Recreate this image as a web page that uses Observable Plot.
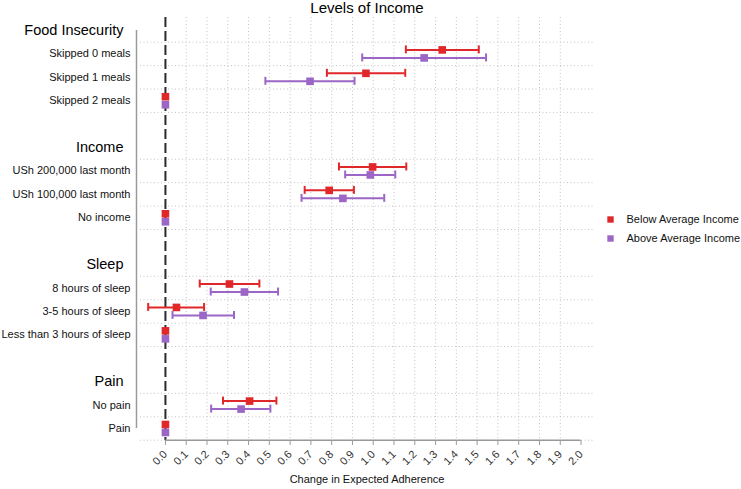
<!DOCTYPE html>
<html><head><meta charset="utf-8">
<script src="https://cdn.jsdelivr.net/npm/d3@7"></script>
<script src="https://cdn.jsdelivr.net/npm/@observablehq/plot@0.6"></script>
<style>body{margin:0;background:#fff;} svg{display:block}</style>
</head><body><div id="chart"></div>
<script>
const title = "Levels of Income";
const xTitle = "Change in Expected Adherence";
const groupNames = ["Food Insecurity", "Income", "Sleep", "Pain"];
const groupRows = [
  ["Skipped 0 meals", "Skipped 1 meals", "Skipped 2 meals"],
  ["USh 200,000 last month", "USh 100,000 last month", "No income"],
  ["8 hours of sleep", "3-5 hours of sleep", "Less than 3 hours of sleep"],
  ["No pain", "Pain"]
];
const seriesNames = ["Below Average Income", "Above Average Income"];
const seriesColors = ["#e0282b", "#9b66c6"];
// values in row order (same order as groupRows flattened); null = reference level (no interval)
const belowEst = [1.332, 0.965, 0, 0.997, 0.788, 0, 0.308, 0.053, 0, 0.405, 0];
const belowLo  = [1.157, 0.777, null, 0.835, 0.670, null, 0.165, -0.083, null, 0.277, null];
const belowHi  = [1.508, 1.154, null, 1.159, 0.907, null, 0.452, 0.186, null, 0.534, null];
const aboveEst = [1.245, 0.696, 0, 0.986, 0.854, 0, 0.380, 0.181, 0, 0.364, 0];
const aboveLo  = [0.947, 0.481, null, 0.865, 0.655, null, 0.218, 0.034, null, 0.220, null];
const aboveHi  = [1.543, 0.910, null, 1.106, 1.053, null, 0.542, 0.330, null, 0.505, null];
const xTicks = [0.0, 0.1, 0.2, 0.3, 0.4, 0.5, 0.6, 0.7, 0.8, 0.9, 1.0, 1.1, 1.2, 1.3, 1.4, 1.5, 1.6, 1.7, 1.8, 1.9, 2.0];
const xGrid = [0.1, 0.2, 0.3, 0.4, 0.5, 0.6, 0.7, 0.8, 0.9, 1.0, 1.1, 1.2, 1.3, 1.4, 1.5, 1.6, 1.7, 1.8, 1.9];

// layout of rows: header slot, then rows, then a blank slot
const headers = [], rows = [], gridY = [];
let s = 0;
groupNames.forEach((g, gi) => {
  headers.push({label: g, slot: s});
  gridY.push(s + 0.5);
  groupRows[gi].forEach((r, ri) => {
    rows.push({label: r, slot: s + 1 + ri});
    gridY.push(s + 1 + ri + 0.5);
  });
  s += groupRows[gi].length + 2;
});
const lastSlot = d3.max(rows, d => d.slot);

const series = [
  {name: seriesNames[0], color: seriesColors[0], est: belowEst, lo: belowLo, hi: belowHi, dy: -4},
  {name: seriesNames[1], color: seriesColors[1], est: aboveEst, lo: aboveLo, hi: aboveHi, dy: 4}
].map(S => ({...S, data: rows.map((r, i) => ({slot: r.slot, est: S.est[i], lo: S.lo[i], hi: S.hi[i]}))}));

const marks = [
  Plot.ruleX(xGrid, {stroke: "#c4c4c4", strokeDasharray: "1,2.5", strokeWidth: 1}),
  Plot.ruleY(gridY, {stroke: "#c4c4c4", strokeDasharray: "1,2.5", strokeWidth: 1}),
  Plot.ruleX([0], {stroke: "#2b2b2b", strokeWidth: 2, strokeDasharray: "10,4"}),
  Plot.ruleX([-0.12], {y1: 0, y2: lastSlot, dx: -4, stroke: "#9a9a9a", strokeWidth: 1.5}),
  Plot.ruleY([lastSlot + 0.5], {x1: xTicks[0], x2: xTicks[xTicks.length - 1], stroke: "#9a9a9a", strokeWidth: 1.5}),
  Plot.axisX({ticks: xTicks, tickFormat: d3.format(".1f"), tickRotate: -45, tickSize: 5, stroke: "#9a9a9a", fill: "#333", fontSize: 11, label: null}),
  Plot.text(headers, {frameAnchor: "left", y: "slot", text: "label", dx: -17, textAnchor: "end", fontSize: 14.5, fill: "#000"}),
  Plot.text(rows, {frameAnchor: "left", y: "slot", text: "label", dx: -10, textAnchor: "end", fontSize: 11, fill: "#111"}),
  Plot.text([title], {frameAnchor: "top", dy: -15, fontSize: 15, fill: "#000"}),
  Plot.text([xTitle], {frameAnchor: "bottom", dy: 42, fontSize: 11, fill: "#111"})
];
series.forEach((S, i) => {
  const ci = S.data.filter(d => d.lo != null);
  marks.push(
    Plot.ruleY(ci, {y: "slot", x1: "lo", x2: "hi", dy: S.dy, stroke: S.color, strokeWidth: 2}),
    Plot.ruleX(ci, {x: "lo", y1: d => d.slot - 0.17, y2: d => d.slot + 0.17, dy: S.dy, stroke: S.color, strokeWidth: 2}),
    Plot.ruleX(ci, {x: "hi", y1: d => d.slot - 0.17, y2: d => d.slot + 0.17, dy: S.dy, stroke: S.color, strokeWidth: 2}),
    Plot.dot(S.data, {x: "est", y: "slot", dy: S.dy, symbol: "square", r: 4.3, fill: S.color}),
    Plot.dot([S.name], {frameAnchor: "right", dx: 17, dy: i === 0 ? -9.5 : 9.5, symbol: "square", r: 3.6, fill: S.color}),
    Plot.text([S.name], {frameAnchor: "right", dx: 33, dy: i === 0 ? -9.5 : 9.5, textAnchor: "start", fontSize: 11, fill: "#111"})
  );
});

const chart = Plot.plot({
  width: 741,
  height: 489,
  marginLeft: 140,
  marginRight: 148,
  marginTop: 17,
  marginBottom: 49,
  style: {fontFamily: "Arial, 'Liberation Sans', sans-serif", background: "#fff"},
  x: {domain: [-0.12, 2.06]},
  y: {domain: [-0.555, 17.513], reverse: true, axis: null},
  marks
});
document.getElementById("chart").appendChild(chart);
</script>
</body></html>
